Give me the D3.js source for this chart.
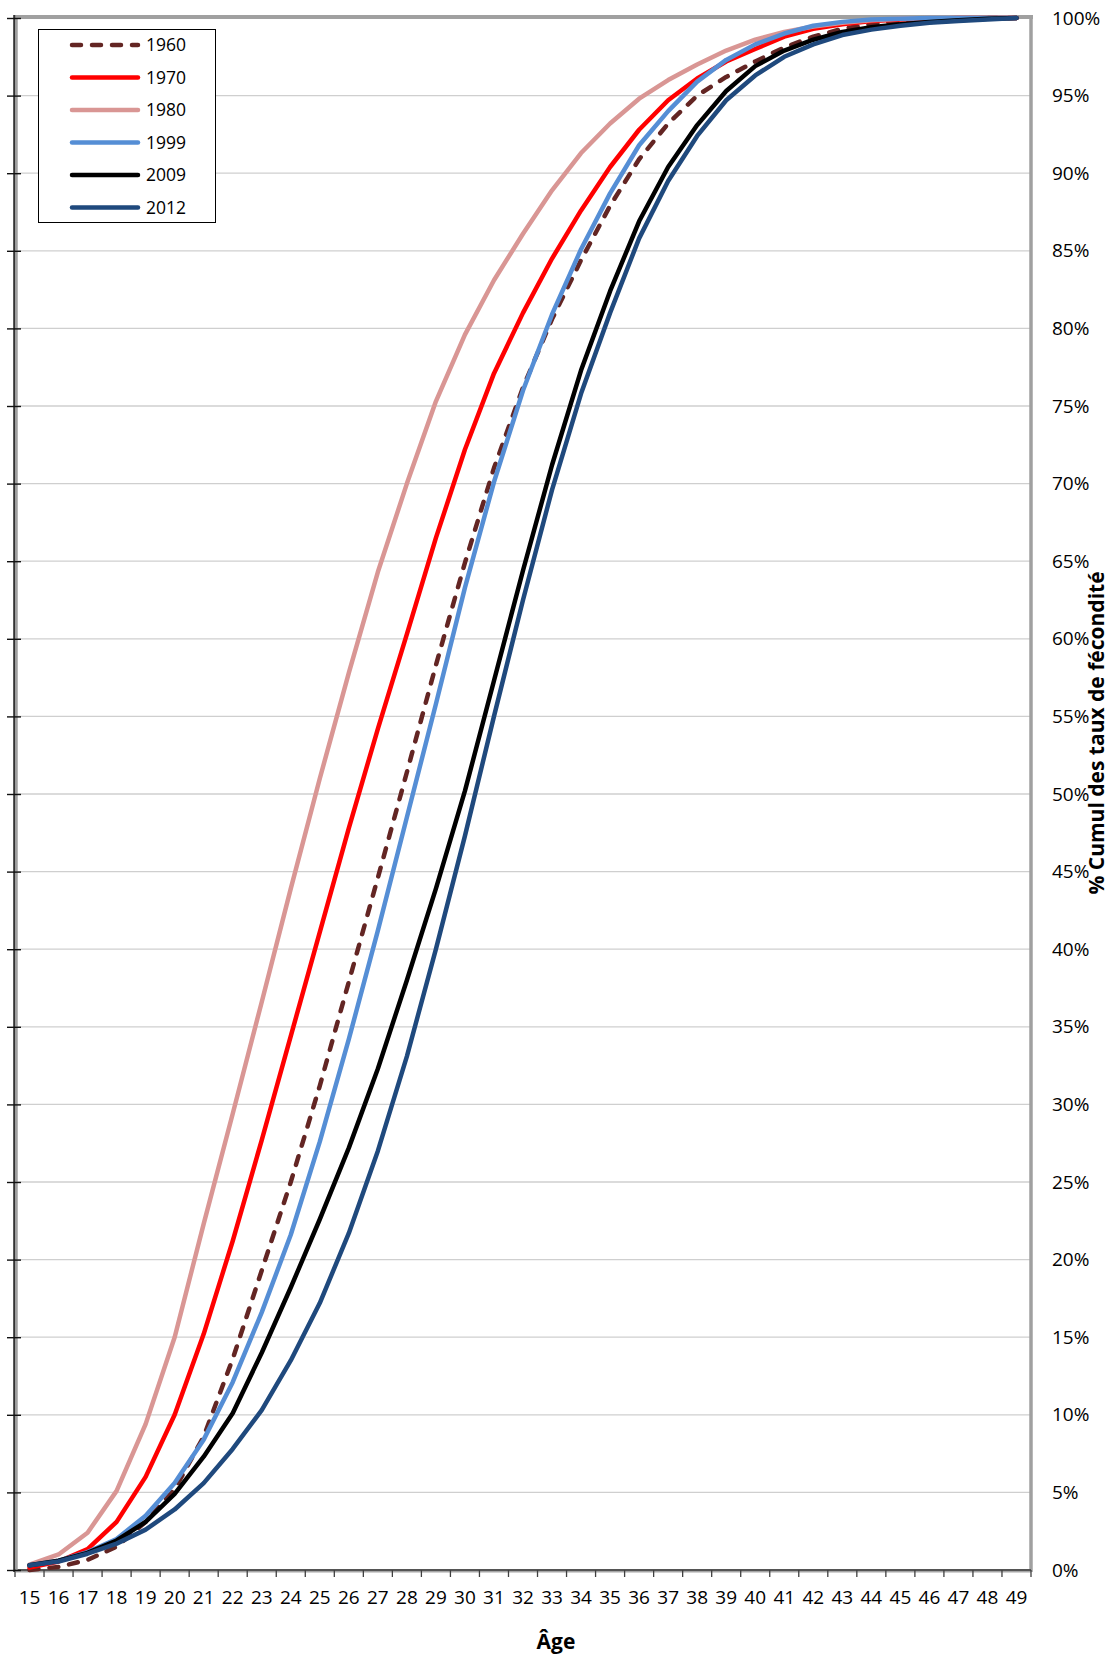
<!DOCTYPE html>
<html><head><meta charset="utf-8">
<script src="https://cdn.jsdelivr.net/npm/d3@7"></script>
<style>
html,body{margin:0;padding:0;background:#fff;}
svg{display:block;}
text{font-family:"Open Sans", sans-serif;fill:#000;}
</style></head><body>
<svg id="chart" width="1110" height="1658"></svg>
<script>
// ---- data ----
const ages = [15,16,17,18,19,20,21,22,23,24,25,26,27,28,29,30,31,32,33,34,35,36,37,38,39,40,41,42,43,44,45,46,47,48,49];
const yTicks = [0,5,10,15,20,25,30,35,40,45,50,55,60,65,70,75,80,85,90,95,100];
const seriesNames = ["1960","1970","1980","1999","2009","2012"];
const s1960 = [0.0,0.2,0.65,1.5,3.1,5.2,8.6,13.6,19.3,25.0,31.2,37.9,44.6,51.4,58.3,64.9,71.0,76.2,80.6,84.4,87.9,90.9,93.2,95.0,96.2,97.2,98.1,98.8,99.3,99.6,99.8,99.9,99.95,100,100];
const s1970 = [0.15,0.55,1.35,3.1,6.0,10.0,15.2,21.2,27.7,34.4,41.1,47.8,54.2,60.3,66.5,72.2,77.1,81.0,84.5,87.6,90.4,92.8,94.7,96.1,97.2,98.0,98.8,99.3,99.6,99.8,99.9,99.95,100,100,100];
const s1980 = [0.35,1.0,2.4,5.1,9.4,15.0,22.3,29.4,36.6,43.9,51.0,57.8,64.3,70.0,75.3,79.6,83.1,86.1,88.9,91.3,93.2,94.8,96.0,97.0,97.9,98.6,99.1,99.45,99.7,99.85,99.95,100,100,100,100];
const s1999 = [0.3,0.6,1.15,2.0,3.5,5.6,8.4,12.1,16.6,21.6,27.6,34.2,41.2,48.5,55.8,63.3,70.1,76.0,80.9,85.1,88.7,91.8,94.0,95.9,97.3,98.3,99.0,99.5,99.75,99.9,99.95,100,100,100,100];
const s2009 = [0.3,0.6,1.1,1.9,3.1,4.9,7.3,10.1,14.0,18.2,22.6,27.2,32.3,38.0,43.9,50.2,57.3,64.4,71.2,77.3,82.4,86.9,90.4,93.1,95.3,96.9,97.9,98.6,99.1,99.4,99.6,99.75,99.85,99.95,100];
const s2012 = [0.3,0.55,1.05,1.7,2.6,3.9,5.6,7.8,10.3,13.5,17.2,21.7,27.0,33.1,40.0,47.3,55.0,62.5,69.6,75.8,81.0,85.8,89.5,92.4,94.7,96.3,97.5,98.3,98.9,99.25,99.5,99.7,99.8,99.9,100];
const seriesColors = ["#632523","#FF0000","#D99694","#558ED5","#000000","#1F497D"];
const seriesDash = ["9,11",null,null,null,null,null];
const seriesValues = [s1960,s1970,s1980,s1999,s2009,s2012];

// ---- layout ----
const L = 15, R = 1031, T = 18, B = 1570;
const svg = d3.select("#chart");
const x = d3.scaleBand().domain(ages).range([L, R]);
const y = d3.scaleLinear().domain([0, 100]).range([B, T]);

// gridlines
svg.append("g").selectAll("line")
  .data(yTicks.filter(d => d > 0 && d < 100))
  .join("line")
  .attr("x1", L).attr("x2", R)
  .attr("y1", d => y(d)).attr("y2", d => y(d))
  .attr("stroke", "#cfcfcf").attr("stroke-width", 1.3);

// top & right borders
svg.append("line").attr("x1", L).attr("x2", R + 2).attr("y1", T - 1).attr("y2", T - 1)
  .attr("stroke", "#a0a0a0").attr("stroke-width", 4);
svg.append("line").attr("x1", R).attr("x2", R).attr("y1", T - 3).attr("y2", B + 2)
  .attr("stroke", "#a0a0a0").attr("stroke-width", 3.5);

// bottom axis line + ticks
svg.append("line").attr("x1", L).attr("x2", R).attr("y1", B + 1.5).attr("y2", B + 1.5)
  .attr("stroke", "#a6a6a6").attr("stroke-width", 2);
svg.append("line").attr("x1", L).attr("x2", R).attr("y1", B).attr("y2", B)
  .attr("stroke", "#555", ).attr("stroke-width", 1.8);
const boundaries = ages.map(a => x(a)).concat([x(ages[ages.length - 1]) + x.bandwidth()]);
svg.append("g").selectAll("line").data(boundaries).join("line")
  .attr("x1", d => d).attr("x2", d => d).attr("y1", B).attr("y2", B + 7)
  .attr("stroke", "#404040").attr("stroke-width", 1.3);

// bottom labels
const xAxis = svg.append("g").attr("transform", `translate(0,${B})`)
  .call(d3.axisBottom(x).tickSize(0).tickPadding(0));
xAxis.select(".domain").remove();
xAxis.selectAll("text").attr("y", 27).attr("dy", "0.35em")
  .style("font-size", "19px").style("font-family", "'Open Sans', sans-serif").attr("fill", "#000");

// left axis (ticks only)
svg.append("line").attr("x1", L + 1.5).attr("x2", L + 1.5).attr("y1", T - 3).attr("y2", B + 2)
  .attr("stroke", "#a0a0a0").attr("stroke-width", 2.5);
svg.append("line").attr("x1", L - 0.8).attr("x2", L - 0.8).attr("y1", T - 3).attr("y2", B + 2)
  .attr("stroke", "#333", ).attr("stroke-width", 2);
const yLeft = svg.append("g").attr("transform", `translate(${L},0)`)
  .call(d3.axisLeft(y).tickValues(yTicks).tickSize(8).tickFormat(""));
yLeft.select(".domain").remove();
yLeft.selectAll(".tick line").attr("x1", 6).attr("x2", -8).attr("stroke", "#111").attr("stroke-width", 1.4);

// right labels
const yRight = svg.append("g").attr("transform", `translate(${R},0)`)
  .call(d3.axisRight(y).tickValues(yTicks).tickSize(0).tickPadding(21).tickFormat(d => d + "%"));
yRight.select(".domain").remove();
yRight.selectAll("text").style("font-size", "19px").style("font-family", "'Open Sans', sans-serif").attr("fill", "#000");

// series lines
const line = d3.line()
  .x((d, i) => x(ages[i]) + x.bandwidth() / 2)
  .y(d => y(d));
seriesValues.forEach((vals, k) => {
  svg.append("path").datum(vals)
    .attr("d", line)
    .attr("fill", "none")
    .attr("stroke", seriesColors[k])
    .attr("stroke-width", 4.5)
    .attr("stroke-linejoin", "round")
    .attr("stroke-linecap", seriesDash[k] ? "round" : "round")
    .attr("stroke-dasharray", seriesDash[k]);
});

// legend
const lg = svg.append("g");
lg.append("rect").attr("x", 38.5).attr("y", 29.5).attr("width", 177).attr("height", 193)
  .attr("fill", "#fff").attr("stroke", "#000").attr("stroke-width", 1);
seriesNames.forEach((name, k) => {
  const cy = 45 + k * 32.5;
  lg.append("line").attr("x1", 72).attr("x2", 138).attr("y1", cy).attr("y2", cy)
    .attr("stroke", seriesColors[k]).attr("stroke-width", 4.5)
    .attr("stroke-linecap", "round")
    .attr("stroke-dasharray", seriesDash[k]);
  lg.append("text").attr("x", 146).attr("y", cy).attr("dy", "0.35em")
    .style("font-size", "17.5px").text(name);
});

// axis titles
svg.append("text").attr("transform", "translate(1104,733) rotate(-90)")
  .attr("text-anchor", "middle").style("font-size", "21px").style("font-weight", "bold")
  .text("% Cumul des taux de fécondité");
svg.append("text").attr("x", 556).attr("y", 1649).attr("text-anchor", "middle")
  .style("font-size", "21px").style("font-weight", "bold").text("Âge");
</script>
</body></html>
